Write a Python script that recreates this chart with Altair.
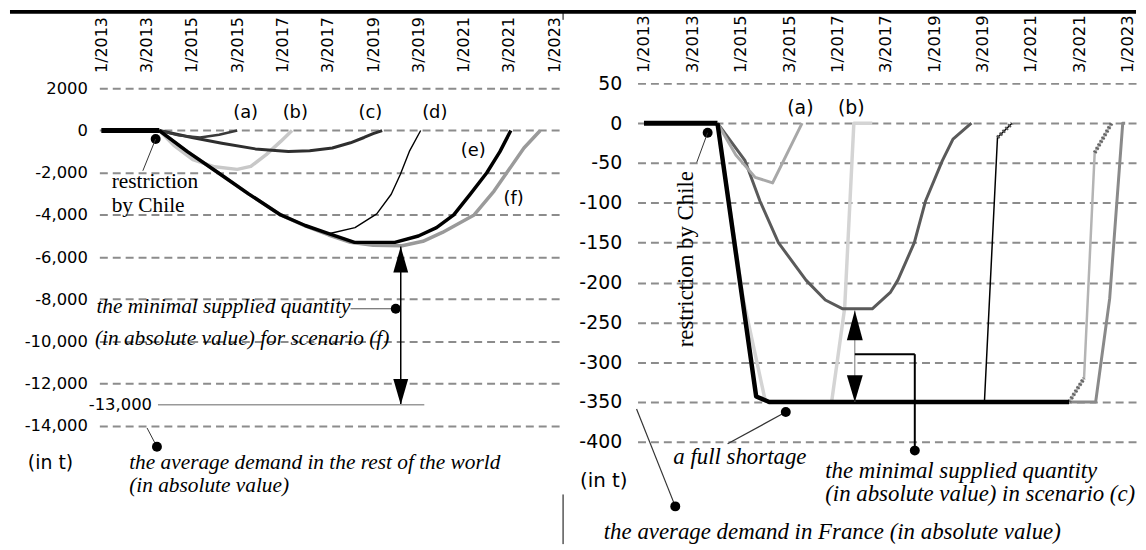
import altair as alt
import pandas as pd

# ---------------- data ----------------
X_LABELS = ["1/2013", "3/2013", "1/2015", "3/2015", "1/2017", "3/2017",
            "1/2019", "3/2019", "1/2021", "3/2021", "1/2023"]

# Left panel: rest of the world (x in tick-label index units, y in t)
L_TICKS = [2000, 0, -2000, -4000, -6000, -8000, -10000, -12000, -14000]
L_RESTR_X = [0.0, 1.28]
L_RESTR_Y = [0, 0]
L_A_X = [1.28, 1.7, 2.18, 2.6, 3.0]
L_A_Y = [0, -230, -330, -200, 0]
L_B_X = [1.28, 1.6, 2.02, 2.5, 3.0, 3.3, 3.64, 3.96, 4.21]
L_B_Y = [0, -700, -1380, -1720, -1840, -1700, -1140, -515, 0]
L_C_X = [1.28, 2.0, 2.66, 3.4, 4.13, 4.6, 5.1, 5.5, 5.8, 6.0, 6.2]
L_C_Y = [0, -330, -600, -870, -990, -960, -830, -580, -330, -150, 0]
L_D_X = [1.28, 1.9, 2.58, 3.25, 3.96, 4.5, 5.02, 5.6, 6.08, 6.4, 6.6, 6.8, 7.05]
L_D_Y = [0, -1000, -2000, -3000, -4000, -4500, -4890, -4600, -3950, -3020, -2080, -990, 0]
L_E_X = [1.28, 1.9, 2.58, 3.25, 3.96, 4.5, 5.02, 5.59, 6.48, 7.0, 7.4, 7.78, 8.15, 8.51, 8.8, 9.04]
L_E_Y = [0, -1000, -2000, -3000, -4000, -4500, -4890, -5300, -5300, -5000, -4600, -4000, -3000, -2000, -1000, 0]
L_F_X = [1.28, 1.9, 2.58, 3.25, 3.96, 4.5, 5.02, 5.5, 6.0, 6.64, 7.1, 7.53, 8.23, 8.67, 8.95, 9.33, 9.69]
L_F_Y = [0, -1000, -2000, -3000, -4000, -4520, -4950, -5300, -5440, -5460, -5250, -4830, -4000, -2870, -2000, -830, 0]
L_ARROW_X = 6.61
L_ARROW_TOP = -5500
L_ARROW_BOTTOM = -13000
L_13000_X = [1.25, 7.13]

# Right panel: France
R_TICKS = [50, 0, -50, -100, -150, -200, -250, -300, -350, -400]
R_RESTR_X = [0.0, 1.52]
R_RESTR_Y = [0, 0]
R_A_X = [1.52, 1.9, 2.3, 2.66, 3.27]
R_A_Y = [0, -40, -68, -75, 0]
R_B_X = [1.52, 2.05, 2.51, 3.88, 4.15, 4.34, 4.72]
R_B_Y = [0, -220, -349, -350, -232, 0, 0]
R_C_X = [1.52, 2.09, 2.4, 2.78, 3.35, 3.75, 4.11, 4.72, 5.1, 5.25, 5.59, 5.82, 6.17, 6.39, 6.77]
R_C_Y = [0, -47, -98, -150, -197, -222, -233, -233, -212, -197, -150, -98, -47, -20, 0]
R_D_X = [1.52, 2.32, 2.59, 7.04, 7.31, 7.61]
R_D_Y = [0, -343, -350, -350, -18, 0]
R_E_X = [1.52, 2.32, 2.59, 8.79, 9.1, 9.32, 9.67]
R_E_Y = [0, -343, -350, -350, -320, -37, 0]
R_F_X = [1.52, 2.32, 2.59, 9.34, 9.63, 9.9, 9.95]
R_F_Y = [0, -343, -350, -350, -220, 0, 0]
R_ARROW_X = 4.36
R_ARROW_TOP = -235
R_ARROW_BOTTOM = -350
R_BRACKET_X = [4.36, 5.6]
R_BRACKET_Y = [-290, -411]

# ---------------- style ----------------
SANS = "DejaVu Sans"
SERIF = "Liberation Serif"
GRID = "#8c8c8c"
dummy = pd.DataFrame({"k": [0]})
label_expr = "[" + ",".join("'%s'" % s for s in X_LABELS) + "][datum.value]"


def x_enc(domain, fs):
    return alt.X("x:Q", scale=alt.Scale(domain=domain, nice=False, zero=False),
                 axis=alt.Axis(orient="top", values=list(range(len(X_LABELS))),
                               labelExpr=label_expr, labelAngle=270,
                               labelAlign="left", labelBaseline="middle",
                               labelPadding=11, labelFont=SANS, labelFontSize=fs,
                               labelColor="black", labelOverlap=False,
                               labelFlush=False, grid=False, ticks=False,
                               domain=False),
                 title=None)


def y_enc(domain, ticks, expr, pad, fs):
    return alt.Y("y:Q", scale=alt.Scale(domain=domain, nice=False, zero=False),
                 axis=alt.Axis(values=ticks, labelExpr=expr, grid=True,
                               gridDash=[8, 5], gridColor=GRID, gridWidth=2,
                               ticks=False, domain=False, labelPadding=pad,
                               labelFont=SANS, labelFontSize=fs,
                               labelColor="black", labelOverlap=False,
                               labelFlush=False),
                 title=None)


def series(xs, ys, X, Y, color, w, dash=None):
    df = pd.DataFrame({"x": xs, "y": ys, "i": list(range(len(xs)))})
    kw = dict(color=color, strokeWidth=w, strokeJoin="round")
    if dash:
        kw["strokeDash"] = dash
    return alt.Chart(df).mark_line(**kw).encode(x=X, y=Y, order="i:Q")


def txt(s, x, y, size, font=SERIF, style="italic", align="left", angle=None):
    kw = dict(text=s, font=font, fontSize=size, fontStyle=style, align=align,
              baseline="middle", color="black")
    if angle is not None:
        kw["angle"] = angle
    return alt.Chart(dummy).mark_text(**kw).encode(x=alt.value(x), y=alt.value(y))


def seg(x1, y1, x2, y2, color="black", w=1.2):
    return alt.Chart(dummy).mark_rule(color=color, strokeWidth=w).encode(
        x=alt.value(x1), y=alt.value(y1), x2=alt.value(x2), y2=alt.value(y2))


def dot(x, y, size=100):
    return alt.Chart(dummy).mark_point(filled=True, color="black", size=size,
                                       opacity=1, shape="circle").encode(
        x=alt.value(x), y=alt.value(y))


def data_dot(xv, yv, X, Y, size=100):
    return alt.Chart(pd.DataFrame({"x": [xv], "y": [yv]})).mark_point(
        filled=True, color="black", size=size, opacity=1, shape="circle").encode(x=X, y=Y)


def head(xv, yv, X, Y, up, h, w):
    r = w / (2 * h)
    shape = ("M0,0L-%.3f,1L%.3f,1Z" if up else "M0,0L-%.3f,-1L%.3f,-1Z") % (r, r)
    return alt.Chart(pd.DataFrame({"x": [xv], "y": [yv]})).mark_point(
        shape=shape, size=4 * h * h, filled=True, color="black", opacity=1,
        strokeWidth=0).encode(x=X, y=Y)


# ---------------- left panel ----------------
XL = x_enc([-0.044, 10.15], 16)
YL = y_enc([-14000, 2235], L_TICKS,
           "datum.value == 2000 ? '2000' : (datum.value < 0 ? '-' : '') + format(abs(datum.value), ',')",
           12, 16.5)
LS = 21.5

left_layers = [
    series(L_B_X, L_B_Y, XL, YL, "#c8c8c8", 3.5),
    series(L_F_X, L_F_Y, XL, YL, "#9a9a9a", 3.5),
    series(L_C_X, L_C_Y, XL, YL, "#2e2e2e", 3),
    series(L_A_X, L_A_Y, XL, YL, "#3a3a3a", 2.5),
    series(L_D_X, L_D_Y, XL, YL, "black", 1.4),
    series(L_E_X, L_E_Y, XL, YL, "black", 3.5),
    series(L_RESTR_X, L_RESTR_Y, XL, YL, "black", 5),
    # arrow for scenario (f)
    alt.Chart(pd.DataFrame({"x": [L_ARROW_X], "y": [L_ARROW_TOP], "y2": [L_ARROW_BOTTOM]}))
    .mark_rule(color="black", strokeWidth=1.5).encode(x=XL, y=YL, y2="y2:Q"),
    head(L_ARROW_X, L_ARROW_TOP, XL, YL, True, 26, 15),
    head(L_ARROW_X, L_ARROW_BOTTOM, XL, YL, False, 26, 15),
    seg(253, 227, 298.5, 227, "#555", 1.2),
    dot(298.5, 227),
    # -13,000 line
    alt.Chart(pd.DataFrame({"x": [L_13000_X[0]], "x2": [L_13000_X[1]], "y": [L_ARROW_BOTTOM]}))
    .mark_rule(color="#999", strokeWidth=1.5).encode(x=XL, x2="x2:Q", y=YL),
    alt.Chart(pd.DataFrame({"y": [L_ARROW_BOTTOM]})).mark_text(
        text="-13,000", font=SANS, fontSize=16.5, align="right", baseline="middle",
        color="black").encode(x=alt.value(53), y=YL),
    # scenario labels
    txt("(a)", 147.3, 30, 18, SANS, "normal", "center"),
    txt("(b)", 197.3, 30, 18, SANS, "normal", "center"),
    txt("(c)", 273, 30, 18, SANS, "normal", "center"),
    txt("(d)", 337.8, 30, 18, SANS, "normal", "center"),
    txt("(e)", 376.6, 68, 18, SANS, "normal", "center"),
    txt("(f)", 417.3, 116, 18, SANS, "normal", "center"),
    # restriction by Chile
    dot(56.7, 56),
    seg(56.7, 56, 43.8, 88, "#333", 1),
    txt("restriction", 12.4, 99, LS, style="normal"),
    txt("by Chile", 12.4, 124, LS, style="normal"),
    # minimal supplied quantity texts
    txt("the minimal supplied quantity", 253, 225, LS, align="right"),
    txt("(in absolute value) for scenario (f)", 292, 257, LS, align="right"),
    # bottom texts
    txt("(in t)", -72, 382, 19, SANS, "normal"),
    txt("the average demand in the rest of the world", 30, 382, LS),
    txt("(in absolute value)", 30, 406, LS),
    seg(48, 347, 58, 366, "#333", 1),
    dot(58, 366),
    # page decorations
    seg(-90, -72, 1044, -72, "black", 4),
    seg(467, -72, 467, -64, "black", 1),
    seg(467, 414, 467, 464, "black", 1),
]
left = alt.layer(*left_layers).properties(width=465, height=345)

# ---------------- right panel ----------------
XR = x_enc([-0.133, 10.195], 16.5)
YR = y_enc([-400, 50], R_TICKS,
           "(datum.value < 0 ? '-' : '') + abs(datum.value)", 16, 19)
RS = 23

right_layers = [
    series(R_F_X, R_F_Y, XR, YR, "#8a8a8a", 3),
    series(R_E_X, R_E_Y, XR, YR, "#b4b4b4", 2.5),
    series(R_E_X[3:5], R_E_Y[3:5], XR, YR, "#666", 4, [2, 2]),
    series(R_E_X[5:7], R_E_Y[5:7], XR, YR, "#666", 4, [2, 2]),
    series(R_B_X, R_B_Y, XR, YR, "#d4d4d4", 3.5),
    series(R_C_X, R_C_Y, XR, YR, "#5a5a5a", 3),
    series(R_A_X, R_A_Y, XR, YR, "#a8a8a8", 3),
    series(R_E_X[:4], R_E_Y[:4], XR, YR, "black", 4.5),
    series(R_D_X, R_D_Y, XR, YR, "black", 1.5),
    series(R_D_X[-2:], R_D_Y[-2:], XR, YR, "#555", 4, [2, 2]),
    series(R_RESTR_X, R_RESTR_Y, XR, YR, "black", 5),
    # double arrow for scenario (c)
    alt.Chart(pd.DataFrame({"x": [R_ARROW_X], "y": [R_ARROW_TOP], "y2": [R_ARROW_BOTTOM]}))
    .mark_rule(color="#777", strokeWidth=1).encode(x=XR, y=YR, y2="y2:Q"),
    head(R_ARROW_X, R_ARROW_TOP, XR, YR, True, 30, 16),
    head(R_ARROW_X, R_ARROW_BOTTOM, XR, YR, False, 27, 16),
    # bracket leader
    alt.Chart(pd.DataFrame({"x": [R_BRACKET_X[0]], "x2": [R_BRACKET_X[1]], "y": [R_BRACKET_Y[0]]}))
    .mark_rule(color="black", strokeWidth=2).encode(x=XR, x2="x2:Q", y=YR),
    alt.Chart(pd.DataFrame({"x": [R_BRACKET_X[1]], "y": [R_BRACKET_Y[0]], "y2": [R_BRACKET_Y[1]]}))
    .mark_rule(color="black", strokeWidth=2).encode(x=XR, y=YR, y2="y2:Q"),
    data_dot(R_BRACKET_X[1], R_BRACKET_Y[1], XR, YR),
    # scenario labels
    txt("(a)", 164, 25, 19, SANS, "normal", "center"),
    txt("(b)", 215.2, 25, 19, SANS, "normal", "center"),
    # restriction by Chile
    dot(70.6, 49.7),
    seg(70.6, 49.7, 59.6, 79.7, "#333", 1),
    txt("restriction by Chile", 48.6, 177, RS, style="normal", align="center", angle=270),
    # full shortage
    seg(90.7, 363, 149.3, 331, "#333", 1.2),
    dot(149.3, 331),
    txt("a full shortage", 36, 376, RS),
    txt("the minimal supplied quantity", 189, 390, RS),
    txt("(in absolute value) in scenario (c)", 189, 414, RS),
    txt("(in t)", -10, 400, 20, SANS, "normal", "right"),
    seg(-1, 328, 38, 426, "#333", 1.2),
    dot(38, 426),
    txt("the average demand in France (in absolute value)", -34, 452, RS),
]
right = alt.layer(*right_layers).properties(width=503, height=361)

chart = alt.hconcat(left, right, spacing=77, bounds="flush").properties(
    padding=0, background="white"
).configure_view(stroke=None)

chart.save("out.html", embed_options={"renderer": "svg", "actions": False})
